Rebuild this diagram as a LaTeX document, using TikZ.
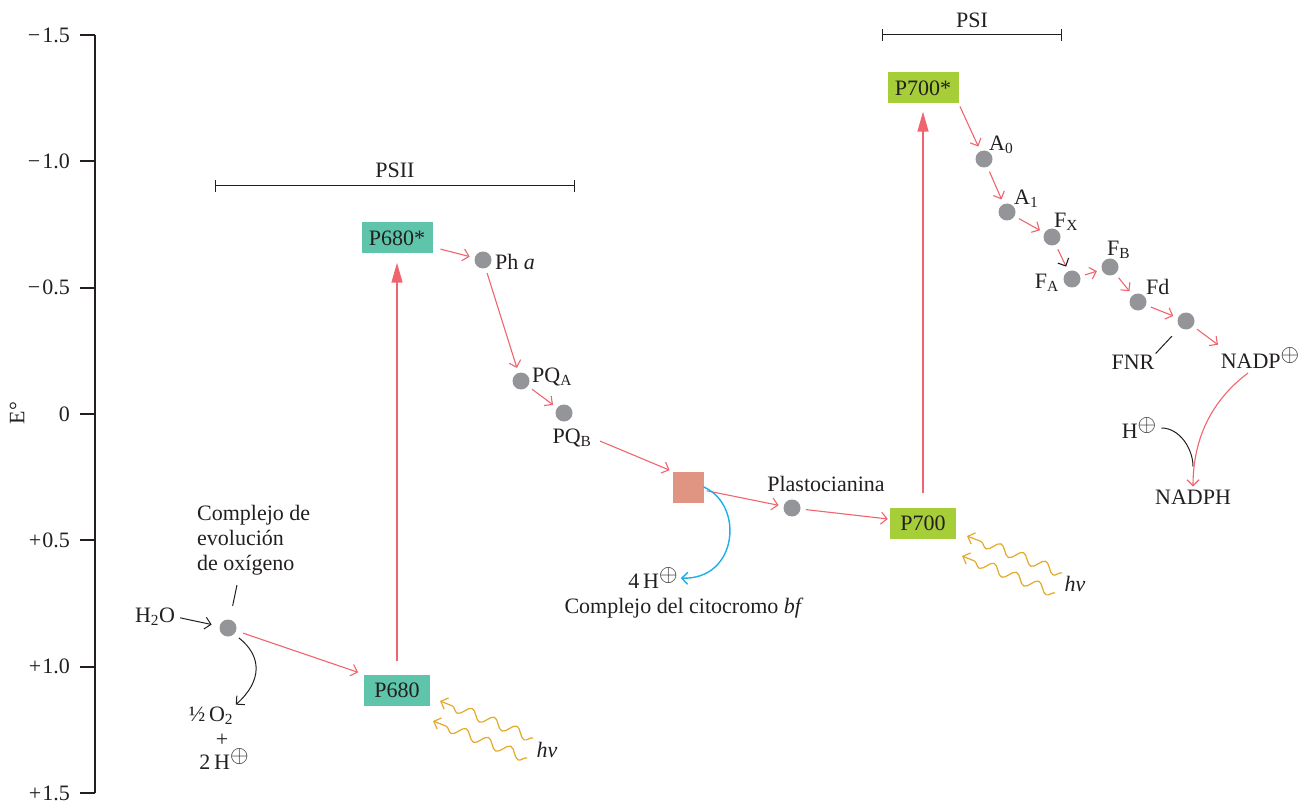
\documentclass[tikz,border=0pt]{standalone}
\usepackage{fontspec}
\setmainfont{Liberation Serif}
\usepackage{xcolor}
\usepackage{tikz}
\usetikzlibrary{arrows.meta,positioning,calc,decorations.pathmorphing}
\definecolor{Ink}{HTML}{231F20}
\definecolor{FlowRed}{HTML}{F0646E}
\definecolor{DotGrey}{HTML}{939598}
\definecolor{PsTeal}{HTML}{5EC4AA}
\definecolor{PsGreen}{HTML}{A6CE39}
\definecolor{CytSalmon}{HTML}{E09583}
\definecolor{ProtonBlue}{HTML}{1EAEE8}
\definecolor{LightGold}{HTML}{E3A92A}
\newcommand\zsfont{\fontsize{22}{25}\selectfont}
\newcommand\zsplus{\raisebox{0.35em}{\scalebox{1.15}{$\oplus$}}}

\begin{document}
\begin{tikzpicture}[x=1pt,y=-1pt]
  \path[use as bounding box] (0,0) rectangle (1314,802);
  \tikzset{
    zsAxis/.style={draw=Ink, line width=2.2pt},
    zsTick/.style={font=\zsfont, text=Ink, anchor=east, inner sep=0pt},
    zsBracket/.style={draw=Ink, line width=1pt, {Bar[width=12pt]}-{Bar[width=12pt]}},
    zsText/.style={font=\zsfont, text=Ink, inner sep=1pt},
    zsDot/.style={circle, fill=DotGrey, minimum size=17pt, inner sep=0pt},
    zsBox/.style={minimum height=31pt, inner sep=0pt, font=\zsfont, text=Ink},
    zsFlow/.style={
      -{Straight Barb[length=6pt,width=12pt]}, draw=FlowRed,
      line width=1.1pt, shorten <=5pt, shorten >=5pt
    },
    zsLift/.style={-{Triangle[length=20pt,width=11pt]}, draw=FlowRed, line width=1.4pt},
    zsBlack/.style={-{Straight Barb[length=6pt,width=12pt]}, draw=Ink, line width=1pt},
    zsLine/.style={draw=Ink, line width=1pt},
    zsProton/.style={-{Straight Barb[length=6pt,width=12pt]}, draw=ProtonBlue, line width=1.4pt},
    zsWave/.style={
      draw=LightGold, line width=1.2pt, decorate,
      decoration={snake, amplitude=5pt, segment length=24pt, post length=8pt},
      -{Straight Barb[length=6pt,width=12pt]}
    }
  }

  % potential axis
  \draw[zsAxis] (95,35) -- (95,793);
  \foreach \lbl [count=\i from 0] in {−\kern2pt1.5,−\kern2pt1.0,−\kern2pt0.5,0,+\kern1pt0.5,+\kern1pt1.0,+\kern1pt1.5}{
    \draw[zsAxis] (80,35+\i*126.33) -- (95,35+\i*126.33);
    \node[zsTick] (tick\i) at (70,35+\i*126.33) {\lbl};
  }
  \node[zsText, rotate=90] (eaxis) at (17,413) {E°};

  % photosystem brackets
  \draw[zsBracket] (215,186) -- (575,186);
  \node[zsText] (psii) at (395,170) {PSII};
  \draw[zsBracket] (882,35) -- (1062,35);
  \node[zsText] (psi) at (972,20) {PSI};

  % PSII side
  \node[zsBox, fill=PsTeal, minimum width=66pt] (p680) at (397,690) {P680};
  \node[zsBox, fill=PsTeal, minimum width=71pt] (p680s) at (397,238) {P680*};
  \node[zsDot] (oec) at (228,628) {};
  \node[zsText, align=left, anchor=west] (oecLabel) at (196,540)
    {Complejo de\\evolución\\de oxígeno};
  \coordinate (oecTip) at (237,585);
  \node[zsText] (h2o) at (155,617) {H\textsubscript{2}O};
  \node[zsText] (halfo2) at (211,716) {½\,O\textsubscript{2}};
  \node[zsText] (plus) at (222,740) {+};
  \node[zsText] (twoh) at (224,759) {2\,H\zsplus};
  \node[zsDot] (pha) at (483,260) {};
  \node[zsText, anchor=west] (phaLabel) at (494,262) {Ph \textit{a}};
  \node[zsDot] (pqa) at (521,381) {};
  \node[zsText, anchor=west] (pqaLabel) at (531,377) {PQ\textsubscript{A}};
  \node[zsDot] (pqb) at (564,413) {};
  \node[zsText] (pqbLabel) at (572,438) {PQ\textsubscript{B}};

  % cytochrome and plastocyanin
  \node[fill=CytSalmon, minimum size=31pt, inner sep=0pt] (cyt) at (688,487) {};
  \node[zsText] (fourh) at (653,578) {4\,H\zsplus};
  \node[zsText] (cytLabel) at (684,608) {Complejo del citocromo \textit{bf}};
  \node[zsDot] (plast) at (792,508) {};
  \node[zsText] (plastLabel) at (826,484) {Plastocianina};

  % PSI side
  \node[zsBox, fill=PsGreen, minimum width=66pt] (p700) at (923,523) {P700};
  \node[zsBox, fill=PsGreen, minimum width=71pt] (p700s) at (923,88) {P700*};
  \node[zsDot] (a0) at (984,159) {};
  \node[zsText, anchor=west] (a0Label) at (988,145) {A\textsubscript{0}};
  \node[zsDot] (a1) at (1007,212) {};
  \node[zsText, anchor=west] (a1Label) at (1013,199) {A\textsubscript{1}};
  \node[zsDot] (fx) at (1052,237) {};
  \node[zsText, anchor=west] (fxLabel) at (1053,222) {F\textsubscript{X}};
  \node[zsDot] (fa) at (1072,279) {};
  \node[zsText, anchor=east] (faLabel) at (1060,283) {F\textsubscript{A}};
  \node[zsDot] (fb) at (1110,267) {};
  \node[zsText, anchor=west] (fbLabel) at (1106,250) {F\textsubscript{B}};
  \node[zsDot] (fd) at (1138,302) {};
  \node[zsText, anchor=west] (fdLabel) at (1145,287) {Fd};
  \node[zsDot] (fnr) at (1186,321) {};
  \node[zsText] (fnrLabel) at (1133,362) {FNR};
  \node[zsText] (nadp) at (1260,358) {NADP\zsplus};
  \node[zsText] (hplus) at (1139,428) {H\zsplus};
  \node[zsText] (nadph) at (1193,497) {NADPH};

  % light
  \coordinate (hvTailA) at (533,738);
  \coordinate (hvHeadA) at (440,701);
  \coordinate (hvTailB) at (527,758);
  \coordinate (hvHeadB) at (433,721);
  \node[zsText, font=\zsfont\itshape] (hvA) at (547,750) {hv};
  \coordinate (hvTailC) at (1062,573);
  \coordinate (hvHeadC) at (967,536);
  \coordinate (hvTailD) at (1055,593);
  \coordinate (hvHeadD) at (962,556);
  \node[zsText, font=\zsfont\itshape] (hvB) at (1075,584) {hv};
  \draw[zsWave] (hvTailA) -- (hvHeadA);
  \draw[zsWave] (hvTailB) -- (hvHeadB);
  \draw[zsWave] (hvTailC) -- (hvHeadC);
  \draw[zsWave] (hvTailD) -- (hvHeadD);

  % electron flow
  \draw[zsLine, shorten <=14pt] (oec) -- (oecTip);
  \draw[zsBlack, shorten <=4pt, shorten >=8pt] (h2o.east) -- (oec);
  \draw[zsBlack, shorten <=6pt, shorten >=2pt] (oec.-45)
    .. controls +(28,22) and +(28,-25) .. (halfo2.north east);
  \draw[zsFlow, shorten <=7pt, shorten >=6pt] (oec) -- (p680.north west);
  \draw[zsLift, shorten <=13pt, shorten >=9pt] (p680.north) -- (p680s.south);
  \draw[zsFlow, shorten <=8pt] (p680s) -- (pha);
  \draw[zsFlow] (pha) -- (pqa);
  \draw[zsFlow] (pqa) -- (pqb);
  \draw[zsFlow, shorten <=8pt, shorten >=3pt] (pqbLabel.east) -- (cyt.north west);
  \draw[zsFlow, shorten <=3pt] (cyt) -- (plast);
  \draw[zsProton, shorten >=2pt] (cyt.east)
    .. controls +(41,18) and +(59,2) .. (fourh.east);
  \draw[zsFlow, shorten >=2pt] (plast) -- (p700);
  \draw[zsLift, shorten <=14pt, shorten >=8pt] (p700.north) -- (p700s.south);
  \draw[zsFlow, shorten <=3pt] (p700s.south east) -- (a0);
  \draw[zsFlow] (a0) -- (a1);
  \draw[zsFlow] (a1) -- (fx);
  \draw[zsFlow, -{Straight Barb[length=6pt,width=12pt,color=Ink]}] (fx) -- (fa);
  \draw[zsFlow] (fa) -- (fb);
  \draw[zsFlow] (fb) -- (fd);
  \draw[zsFlow] (fd) -- (fnr);
  \draw[zsLine, shorten <=12pt] (fnr) -- (fnrLabel.north east);
  \draw[zsFlow, shorten >=2pt] (fnr) -- (nadp.north west);
  \draw[zsLine, shorten <=4pt] (hplus.east)
    .. controls +(22,0) and +(0,-18) .. ($(nadph.north)+(0,-22)$);
  \draw[zsFlow, shorten <=0pt, shorten >=2pt] ($(nadp.south)+(-12,3)$)
    .. controls +(-40,30) and +(0,-45) .. (nadph.north);
\end{tikzpicture}
\end{document}
